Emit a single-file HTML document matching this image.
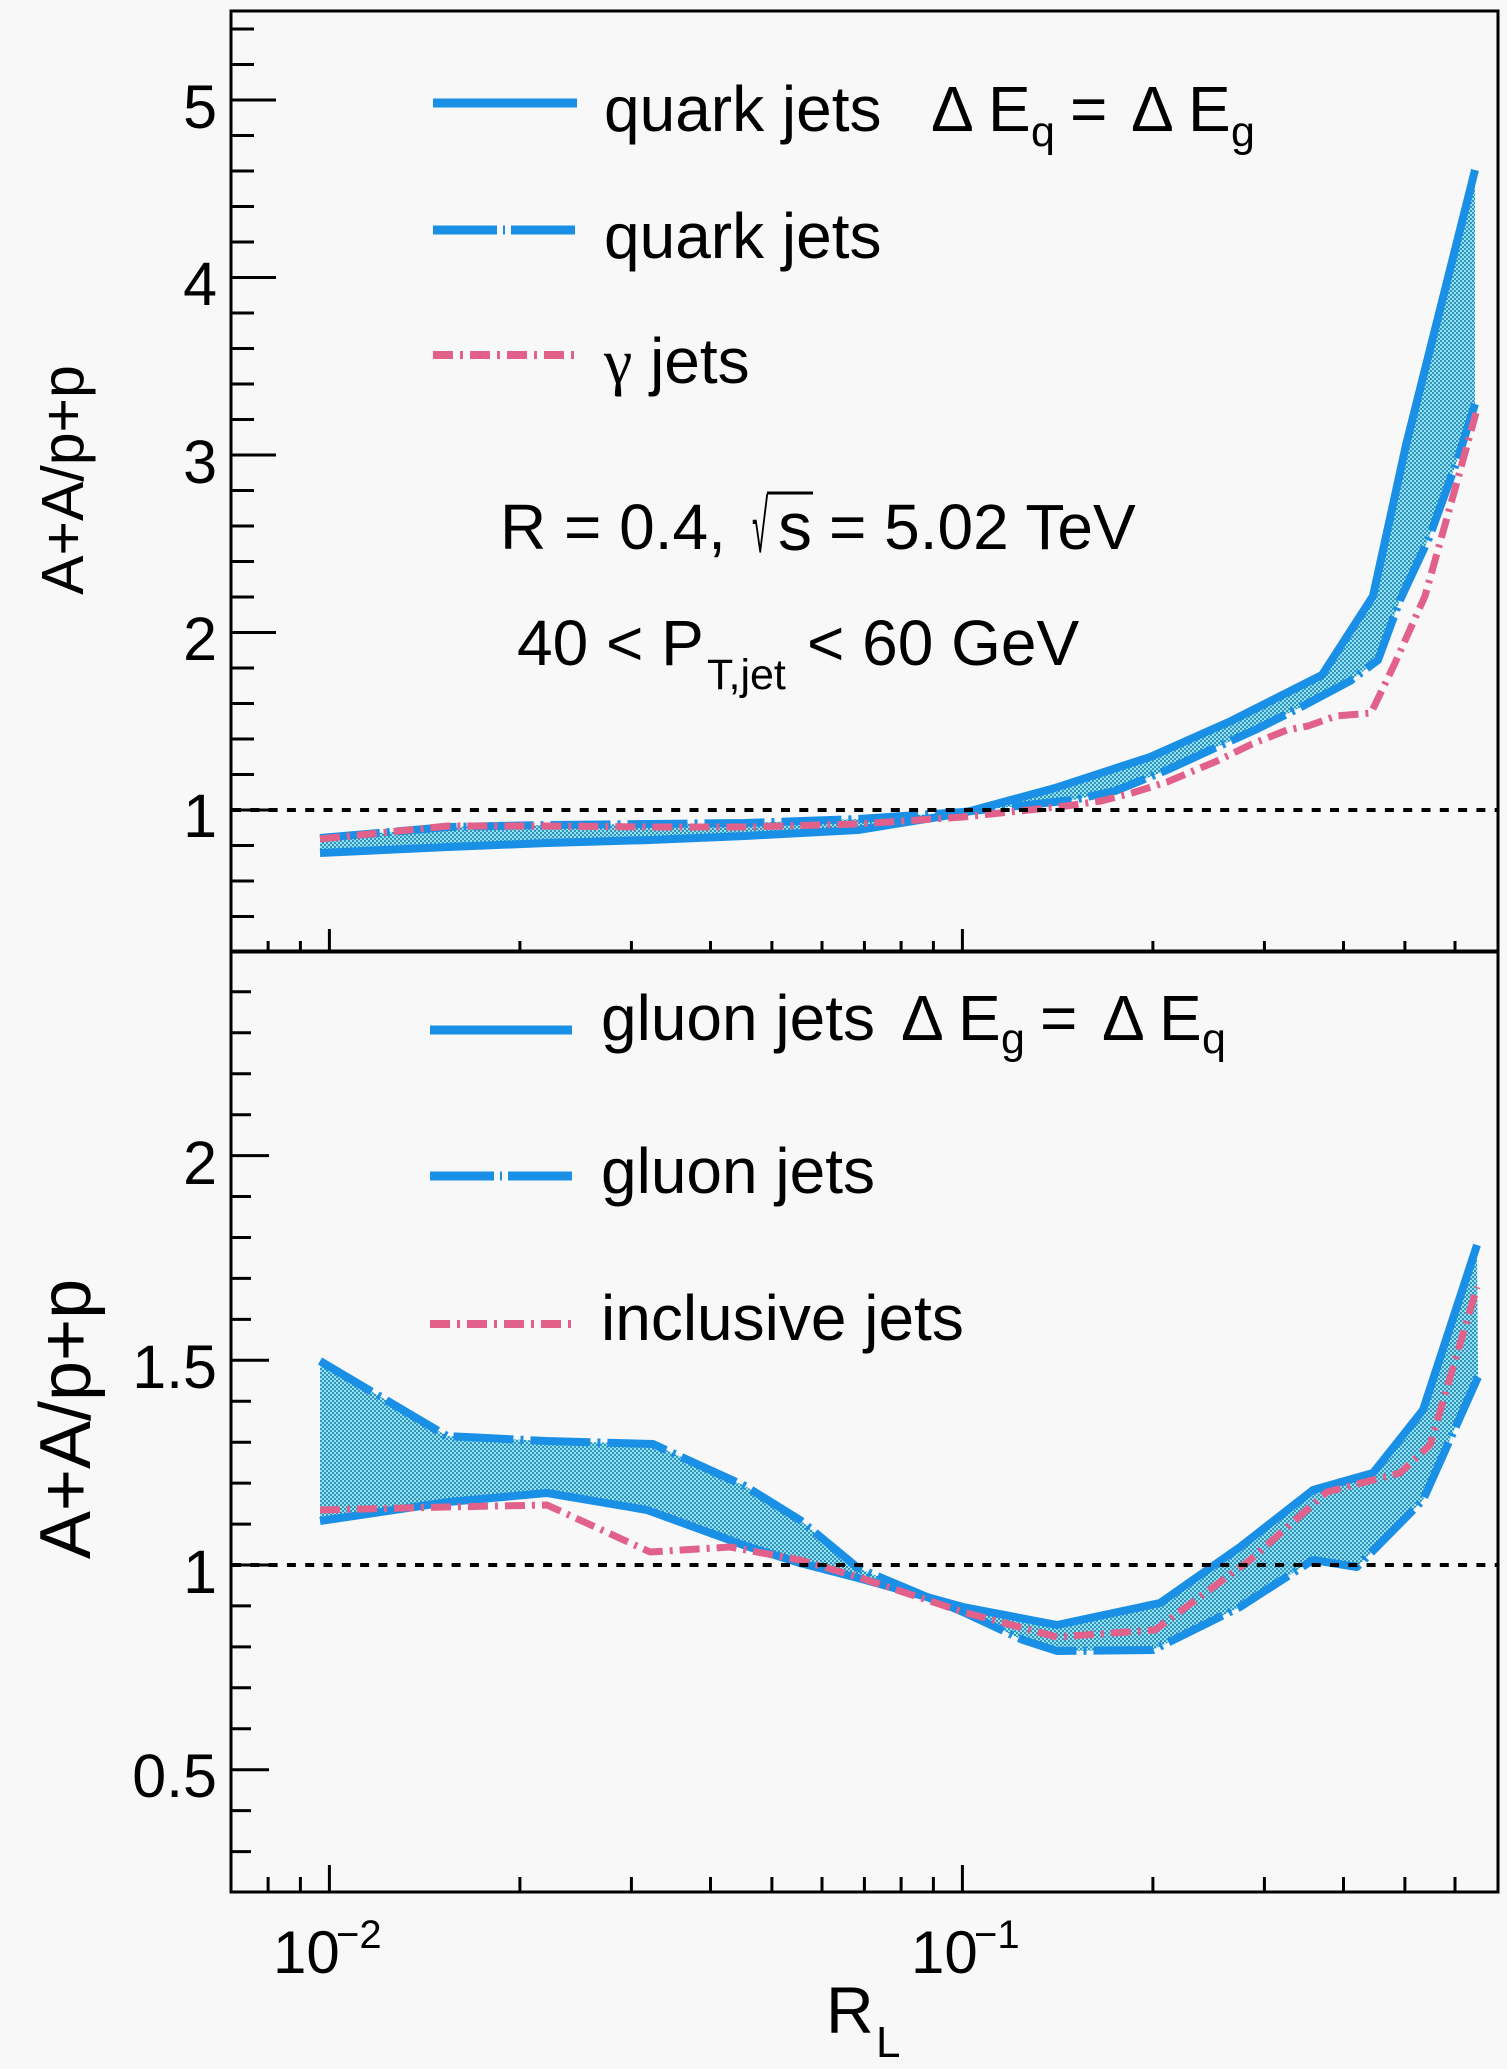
<!DOCTYPE html>
<html>
<head>
<meta charset="utf-8">
<style>
html,body{margin:0;padding:0;background:#f8f8f8;}
svg{display:block;}
text{font-family:"Liberation Sans",Arial,sans-serif;fill:#000;}
</style>
</head>
<body>
<svg width="1507" height="2069" viewBox="0 0 1507 2069" xmlns="http://www.w3.org/2000/svg">
<defs>
<pattern id="h" width="4" height="4" patternUnits="userSpaceOnUse">
<rect width="4" height="4" fill="#8ae6f2"/>
<rect width="2" height="2" fill="#3a90b8"/>
<rect x="2" y="2" width="2" height="2" fill="#3a90b8"/>
</pattern>
</defs>
<rect width="1507" height="2069" fill="#f8f8f8"/>

<!-- ================= UPPER PAD ================= -->
<polygon fill="url(#h)" points="320,853 448,847 547,843 650,840 745,836 858,830 963,813 1055,788 1150,757 1231,721 1322,675 1373,596 1406,445 1475,170 1475,404 1458,458 1429,538 1400,600 1378,660 1350,681 1303,706 1255,730 1217,747 1167,770 1115,791 1073,800 963,812 858,819 745,823 650,824 547,825 448,827 320,838"/>
<polyline fill="none" stroke="#1a8fe6" stroke-width="8" stroke-linejoin="round" points="320,853 448,847 547,843 650,840 745,836 858,830 963,813 1055,788 1150,757 1231,721 1322,675 1373,596 1406,445 1475,170"/>
<polyline fill="none" stroke="#1a8fe6" stroke-width="8" stroke-linejoin="round" stroke-dasharray="60 7 3 7" points="320,838 448,827 547,825 650,824 745,823 858,819 963,812 1073,800 1115,791 1167,770 1217,747 1255,730 1303,706 1350,681 1378,660 1400,600 1429,538 1458,458 1475,404"/>
<polyline fill="none" stroke="#e2618a" stroke-width="7" stroke-linejoin="round" stroke-dasharray="20 7 3 7" points="320,839 448,826 547,826 650,827 745,827 858,824 963,817 1066,806 1101,801 1132,793 1167,782 1217,761 1252,744 1287,730 1308,726 1336,716 1371,713 1395,663 1425,596 1455,489 1476,413"/>
<line x1="232" y1="810" x2="1497" y2="810" stroke="#000" stroke-width="4" stroke-dasharray="9 9.3"/>

<rect x="231" y="11" width="1267" height="941" fill="none" stroke="#000" stroke-width="3"/>

<g stroke="#000" stroke-width="3">
<line x1="231" y1="810" x2="276" y2="810"/>
<line x1="231" y1="632.5" x2="276" y2="632.5"/>
<line x1="231" y1="455" x2="276" y2="455"/>
<line x1="231" y1="277.5" x2="276" y2="277.5"/>
<line x1="231" y1="100" x2="276" y2="100"/>
<line x1="231" y1="916.5" x2="254" y2="916.5"/>
<line x1="231" y1="881" x2="254" y2="881"/>
<line x1="231" y1="845.5" x2="254" y2="845.5"/>
<line x1="231" y1="774.5" x2="254" y2="774.5"/>
<line x1="231" y1="739" x2="254" y2="739"/>
<line x1="231" y1="703.5" x2="254" y2="703.5"/>
<line x1="231" y1="668" x2="254" y2="668"/>
<line x1="231" y1="597" x2="254" y2="597"/>
<line x1="231" y1="561.5" x2="254" y2="561.5"/>
<line x1="231" y1="526" x2="254" y2="526"/>
<line x1="231" y1="490.5" x2="254" y2="490.5"/>
<line x1="231" y1="419.5" x2="254" y2="419.5"/>
<line x1="231" y1="384" x2="254" y2="384"/>
<line x1="231" y1="348.5" x2="254" y2="348.5"/>
<line x1="231" y1="313" x2="254" y2="313"/>
<line x1="231" y1="242" x2="254" y2="242"/>
<line x1="231" y1="206.5" x2="254" y2="206.5"/>
<line x1="231" y1="171" x2="254" y2="171"/>
<line x1="231" y1="135.5" x2="254" y2="135.5"/>
<line x1="231" y1="64.5" x2="254" y2="64.5"/>
<line x1="231" y1="29" x2="254" y2="29"/>
</g>
<g stroke="#000" stroke-width="3">
<line x1="268.1" y1="952" x2="268.1" y2="941"/>
<line x1="300.4" y1="952" x2="300.4" y2="941"/>
<line x1="329.4" y1="952" x2="329.4" y2="929"/>
<line x1="519.9" y1="952" x2="519.9" y2="941"/>
<line x1="631.4" y1="952" x2="631.4" y2="941"/>
<line x1="710.5" y1="952" x2="710.5" y2="941"/>
<line x1="771.9" y1="952" x2="771.9" y2="941"/>
<line x1="822" y1="952" x2="822" y2="941"/>
<line x1="864.4" y1="952" x2="864.4" y2="941"/>
<line x1="901.1" y1="952" x2="901.1" y2="941"/>
<line x1="933.4" y1="952" x2="933.4" y2="941"/>
<line x1="962.4" y1="952" x2="962.4" y2="929"/>
<line x1="1152.9" y1="952" x2="1152.9" y2="941"/>
<line x1="1264.4" y1="952" x2="1264.4" y2="941"/>
<line x1="1343.5" y1="952" x2="1343.5" y2="941"/>
<line x1="1404.9" y1="952" x2="1404.9" y2="941"/>
<line x1="1455" y1="952" x2="1455" y2="941"/>
</g>
<g font-size="61" text-anchor="end">
<text x="217" y="128">5</text>
<text x="217" y="305">4</text>
<text x="217" y="483">3</text>
<text x="217" y="660">2</text>
<text x="217" y="837">1</text>
</g>
<text font-size="59" text-anchor="middle" transform="translate(83,480) rotate(-90)">A+A/p+p</text>

<line x1="433" y1="103" x2="577" y2="103" stroke="#1a8fe6" stroke-width="9"/>
<line x1="433" y1="230" x2="577" y2="230" stroke="#1a8fe6" stroke-width="9" stroke-dasharray="64 6 2 6"/>
<line x1="433" y1="355" x2="577" y2="355" stroke="#e2618a" stroke-width="8" stroke-dasharray="20 7 3 7"/>
<g font-size="64">
<text x="604" y="131">quark jets</text>
<text x="931" y="131">Δ E</text>
<text x="1031" y="146" font-size="43">q</text>
<text x="1070" y="131">=</text>
<text x="1131" y="131">Δ E</text>
<text x="1231" y="146" font-size="43">g</text>
<text x="604" y="258">quark jets</text>
<text x="604" y="383"><tspan font-family="Liberation Serif, serif">γ</tspan> jets</text>
<text x="500" y="549">R = 0.4,</text>
<text transform="translate(752,552) scale(0.4,1)" font-size="74">√</text>
<line x1="767" y1="493" x2="813" y2="493" stroke="#000" stroke-width="3"/>
<text x="778" y="550" font-size="68">s</text>
<text x="829" y="549">= 5.02 TeV</text>
<text x="517" y="665">40 &lt; P</text>
<text x="707" y="689" font-size="43">T,jet</text>
<text x="807" y="665">&lt; 60 GeV</text>
</g>

<!-- ================= LOWER PAD ================= -->
<polygon fill="url(#h)" points="320,1521 448,1502 547,1493 647,1510 746,1546 800,1563 858,1578 963,1607 1057,1625 1160,1603 1240,1547 1313,1490 1373,1473 1423,1410 1477,1245 1478,1377 1423,1500 1357,1567 1313,1560 1240,1607 1153,1650 1057,1651 1023,1640 963,1612 858,1568 800,1520 745,1486 653,1444 546,1441 447,1436 320,1361"/>
<polyline fill="none" stroke="#1a8fe6" stroke-width="8" stroke-linejoin="round" points="320,1521 448,1502 547,1493 647,1510 746,1546 800,1563 858,1578 963,1607 1057,1625 1160,1603 1240,1547 1313,1490 1373,1473 1423,1410 1477,1245"/>
<polyline fill="none" stroke="#1a8fe6" stroke-width="8" stroke-linejoin="round" stroke-dasharray="60 7 3 7" points="320,1361 447,1436 546,1441 653,1444 745,1486 800,1520 858,1568 963,1612 1023,1640 1057,1651 1153,1650 1240,1607 1313,1560 1357,1567 1423,1500 1478,1377"/>
<polyline fill="none" stroke="#e2618a" stroke-width="7" stroke-linejoin="round" stroke-dasharray="20 7 3 7" points="320,1510 447,1507 547,1505 650,1552 730,1547 800,1560 858,1577 963,1612 1057,1637 1155,1630 1250,1560 1327,1492 1400,1473 1430,1445 1477,1287"/>
<line x1="232" y1="1565" x2="1497" y2="1565" stroke="#000" stroke-width="4" stroke-dasharray="9 9.3"/>

<rect x="231" y="951" width="1267" height="941" fill="none" stroke="#000" stroke-width="3"/>

<g stroke="#000" stroke-width="3">
<line x1="231" y1="1769.7" x2="269" y2="1769.7"/>
<line x1="231" y1="1565" x2="269" y2="1565"/>
<line x1="231" y1="1360.3" x2="269" y2="1360.3"/>
<line x1="231" y1="1155.6" x2="269" y2="1155.6"/>
<line x1="231" y1="1851.6" x2="251" y2="1851.6"/>
<line x1="231" y1="1810.6" x2="251" y2="1810.6"/>
<line x1="231" y1="1728.8" x2="251" y2="1728.8"/>
<line x1="231" y1="1687.8" x2="251" y2="1687.8"/>
<line x1="231" y1="1646.9" x2="251" y2="1646.9"/>
<line x1="231" y1="1605.9" x2="251" y2="1605.9"/>
<line x1="231" y1="1524.1" x2="251" y2="1524.1"/>
<line x1="231" y1="1483.1" x2="251" y2="1483.1"/>
<line x1="231" y1="1442.2" x2="251" y2="1442.2"/>
<line x1="231" y1="1401.2" x2="251" y2="1401.2"/>
<line x1="231" y1="1319.4" x2="251" y2="1319.4"/>
<line x1="231" y1="1278.4" x2="251" y2="1278.4"/>
<line x1="231" y1="1237.5" x2="251" y2="1237.5"/>
<line x1="231" y1="1196.5" x2="251" y2="1196.5"/>
<line x1="231" y1="1114.7" x2="251" y2="1114.7"/>
<line x1="231" y1="1073.7" x2="251" y2="1073.7"/>
<line x1="231" y1="1032.8" x2="251" y2="1032.8"/>
<line x1="231" y1="991.8" x2="251" y2="991.8"/>
</g>
<g stroke="#000" stroke-width="3">
<line x1="268.1" y1="1892" x2="268.1" y2="1877"/>
<line x1="300.4" y1="1892" x2="300.4" y2="1877"/>
<line x1="329.4" y1="1892" x2="329.4" y2="1865"/>
<line x1="519.9" y1="1892" x2="519.9" y2="1877"/>
<line x1="631.4" y1="1892" x2="631.4" y2="1877"/>
<line x1="710.5" y1="1892" x2="710.5" y2="1877"/>
<line x1="771.9" y1="1892" x2="771.9" y2="1877"/>
<line x1="822" y1="1892" x2="822" y2="1877"/>
<line x1="864.4" y1="1892" x2="864.4" y2="1877"/>
<line x1="901.1" y1="1892" x2="901.1" y2="1877"/>
<line x1="933.4" y1="1892" x2="933.4" y2="1877"/>
<line x1="962.4" y1="1892" x2="962.4" y2="1865"/>
<line x1="1152.9" y1="1892" x2="1152.9" y2="1877"/>
<line x1="1264.4" y1="1892" x2="1264.4" y2="1877"/>
<line x1="1343.5" y1="1892" x2="1343.5" y2="1877"/>
<line x1="1404.9" y1="1892" x2="1404.9" y2="1877"/>
<line x1="1455" y1="1892" x2="1455" y2="1877"/>
</g>
<g font-size="61" text-anchor="end">
<text x="217" y="1184">2</text>
<text x="217" y="1388">1.5</text>
<text x="217" y="1593">1</text>
<text x="217" y="1797">0.5</text>
</g>
<text font-size="72" text-anchor="middle" transform="translate(90,1419) rotate(-90)">A+A/p+p</text>

<text x="273" y="1973" font-size="60">10</text>
<text x="336" y="1948" font-size="40">−2</text>
<text x="911" y="1973" font-size="60">10</text>
<text x="974" y="1948" font-size="40">−1</text>
<text x="826" y="2033" font-size="66">R</text>
<text x="876" y="2057" font-size="44">L</text>

<line x1="430" y1="1030" x2="572" y2="1030" stroke="#1a8fe6" stroke-width="9"/>
<line x1="430" y1="1176" x2="572" y2="1176" stroke="#1a8fe6" stroke-width="9" stroke-dasharray="64 6 2 6"/>
<line x1="430" y1="1324" x2="572" y2="1324" stroke="#e2618a" stroke-width="8" stroke-dasharray="20 7 3 7"/>
<g font-size="64">
<text x="601" y="1040">gluon jets</text>
<text x="901" y="1040">Δ E</text>
<text x="1001" y="1053" font-size="43">g</text>
<text x="1040" y="1040">=</text>
<text x="1102" y="1040">Δ E</text>
<text x="1202" y="1053" font-size="43">q</text>
<text x="601" y="1193">gluon jets</text>
<text x="601" y="1340">inclusive jets</text>
</g>
</svg>
</body>
</html>
